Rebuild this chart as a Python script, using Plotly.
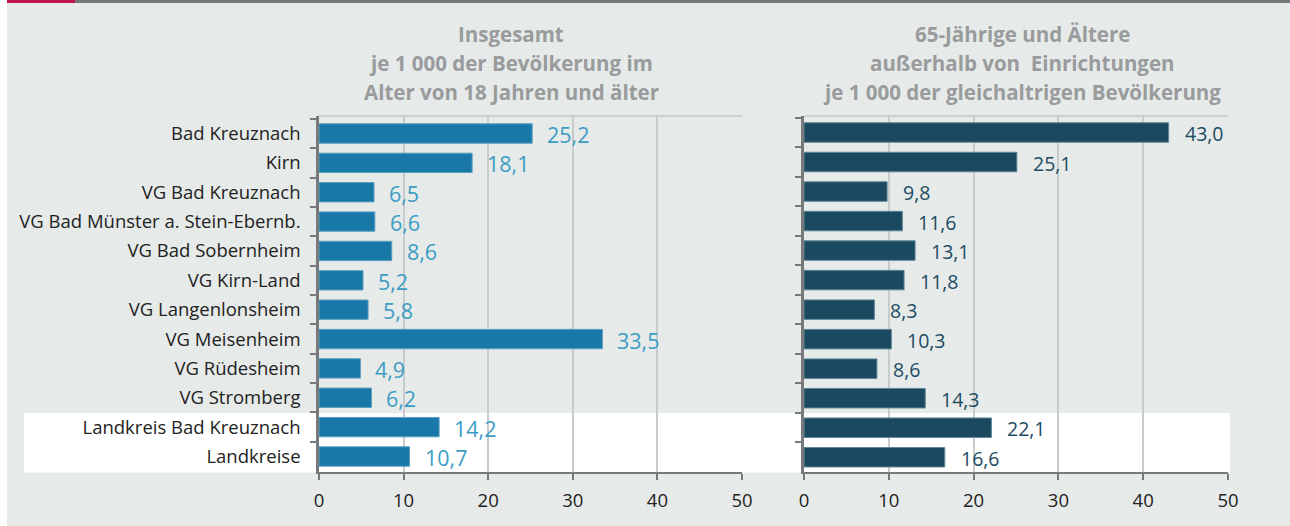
import plotly.graph_objects as go

categories = [
    "Bad Kreuznach", "Kirn", "VG Bad Kreuznach", "VG Bad Münster a. Stein-Ebernb.",
    "VG Bad Sobernheim", "VG Kirn-Land", "VG Langenlonsheim", "VG Meisenheim",
    "VG Rüdesheim", "VG Stromberg", "Landkreis Bad Kreuznach", "Landkreise",
]
insgesamt = [25.2, 18.1, 6.5, 6.6, 8.6, 5.2, 5.8, 33.5, 4.9, 6.2, 14.2, 10.7]
aeltere = [43.0, 25.1, 9.8, 11.6, 13.1, 11.8, 8.3, 10.3, 8.6, 14.3, 22.1, 16.6]
x_ticks = [0, 10, 20, 30, 40, 50]
title_left = ["Insgesamt", "je 1 000 der Bevölkerung im", "Alter von 18 Jahren und älter"]
title_right = ["65-Jährige und Ältere", "außerhalb von  Einrichtungen",
               "je 1 000 der gleichaltrigen Bevölkerung"]

W, H = 1290, 526
BG = "#E6EAE9"
FONT = "Open Sans"
LEFT_BAR, LEFT_TXT = "#1878A8", "#3C9DC4"
RIGHT_BAR, RIGHT_TXT = "#1B4960", "#1D4C63"


def fmt(v):
    return f"{v:.1f}".replace(".", ",")


def px_x(p):
    return p / W


def px_y(p):
    return 1 - p / H


fig = go.Figure()
fig.add_trace(go.Bar(
    x=insgesamt, y=categories, orientation="h", width=0.66,
    marker=dict(color=LEFT_BAR, line=dict(color="#5E9FC2", width=1)),
    xaxis="x", yaxis="y", hoverinfo="skip",
))
fig.add_trace(go.Bar(
    x=aeltere, y=categories, orientation="h", width=0.66,
    marker=dict(color=RIGHT_BAR, line=dict(color="#5F8798", width=1)),
    xaxis="x2", yaxis="y2", hoverinfo="skip",
))

annotations = []
for c, v in zip(categories, insgesamt):
    annotations.append(dict(x=v, y=c, xref="x", yref="y", text=fmt(v), showarrow=False,
                            xanchor="left", xshift=13, yshift=-1,
                            font=dict(family=FONT, size=21.5, color=LEFT_TXT)))
for c, v in zip(categories, aeltere):
    annotations.append(dict(x=v, y=c, xref="x2", yref="y2", text=fmt(v), showarrow=False,
                            xanchor="left", xshift=14, yshift=-1,
                            font=dict(family=FONT, size=19.5, color=RIGHT_TXT)))
line_y = [34, 63, 92]
for cx, lines in ((511, title_left), (1022, title_right)):
    for ly, txt in zip(line_y, lines):
        annotations.append(dict(x=px_x(cx), y=px_y(ly), xref="paper", yref="paper", text=txt,
                                showarrow=False, xanchor="center", yanchor="middle",
                                font=dict(family=FONT, size=20.5, color="#999B9C",
                                          weight="bold")))

shapes = [
    dict(type="rect", xref="paper", yref="paper", x0=0, x1=px_x(7), y0=0, y1=1,
         fillcolor="white", line=dict(width=0), layer="below"),
    dict(type="rect", xref="paper", yref="paper", x0=px_x(7), x1=1, y0=px_y(3), y1=1,
         fillcolor="#76797B", line=dict(width=0), layer="above"),
    dict(type="rect", xref="paper", yref="paper", x0=px_x(7), x1=px_x(75), y0=px_y(3), y1=1,
         fillcolor="#C0174A", line=dict(width=0), layer="above"),
    dict(type="rect", xref="paper", yref="paper", x0=px_x(24), x1=px_x(1230),
         y0=px_y(472.5), y1=px_y(413), fillcolor="white", line=dict(width=0), layer="below"),
    dict(type="line", xref="x", yref="y domain", x0=0, x1=50, y0=1, y1=1,
         line=dict(color="#C4C7C7", width=1.5), layer="below"),
    dict(type="line", xref="x2", yref="y2 domain", x0=0, x1=50, y0=1, y1=1,
         line=dict(color="#C4C7C7", width=1.5), layer="below"),
]

ydom = [px_y(472), px_y(116)]
xaxis_common = dict(
    range=[0, 50], tickvals=x_ticks, ticktext=[str(t) for t in x_ticks],
    showgrid=True, gridcolor="#C8CBCB", gridwidth=1.5, zeroline=False,
    showline=True, linecolor="#77797A", linewidth=2,
    ticks="outside", ticklen=6, tickcolor="#77797A", tickwidth=1.5,
    tickfont=dict(family=FONT, size=18.5, color="#222222"), ticklabelstandoff=5,
    fixedrange=True, automargin=False,
)
yaxis_common = dict(
    categoryorder="array", categoryarray=categories, autorange="reversed",
    showline=True, linecolor="#77797A", linewidth=2.5,
    ticks="outside", ticklen=6, tickcolor="#77797A", tickwidth=1.5, tickson="boundaries",
    showgrid=False, zeroline=False, fixedrange=True, automargin=False,
)

fig.update_layout(
    width=W, height=H, autosize=False,
    margin=dict(l=0, r=0, t=0, b=0, pad=0, autoexpand=False),
    paper_bgcolor=BG, plot_bgcolor="rgba(0,0,0,0)",
    showlegend=False, bargap=0.3,
    xaxis=dict(domain=[px_x(319), px_x(742)], anchor="y", **xaxis_common),
    yaxis=dict(domain=ydom, anchor="x", ticklabelstandoff=12,
               tickfont=dict(family=FONT, size=18.5, color="#222222"), **yaxis_common),
    xaxis2=dict(domain=[px_x(804), px_x(1228)], anchor="y2", **xaxis_common),
    yaxis2=dict(domain=ydom, anchor="x2", showticklabels=False, **yaxis_common),
    annotations=annotations, shapes=shapes,
)

fig.write_html(
    "out.html",
    config={"displayModeBar": False, "responsive": False},
    post_script=(
        "document.documentElement.style.overflow='hidden';"
        "document.body.style.margin='0';document.body.style.overflow='hidden';"
    ),
)
